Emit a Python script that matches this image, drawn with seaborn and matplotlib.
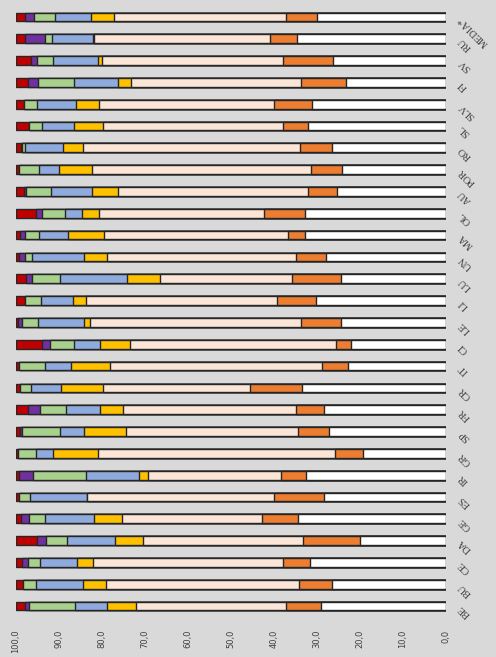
import pandas as pd
import numpy as np
import seaborn as sns
import matplotlib.pyplot as plt

# categories, top to bottom
paesi = ['MEDIA*', 'RU', 'SV', 'FI', 'SLV', 'SL', 'RO', 'POR', 'AU', 'OL', 'MA', 'UN',
         'LU', 'LI', 'LE', 'CI', 'IT', 'CR', 'FR', 'SP', 'GR', 'IR', 'ES', 'GE',
         'DA', 'CE', 'BU', 'BE']

# segments, from the 100 end (left) to the 0 end (right)
rosso = [2.1, 2.2, 3.4, 2.8, 1.9, 3.1, 1.2, 0.8, 1.8, 4.6, 1.0, 0.7,
         2.3, 2.2, 0.5, 6.1, 0.8, 1.0, 2.9, 1.0, 0.5, 0.6, 0.7, 1.1,
         4.8, 1.4, 1.7, 2.2]
viola = [2.2, 4.6, 1.5, 2.3, 0.0, 0.0, 0.3, 0.0, 0.5, 1.5, 1.2, 1.5,
         1.5, 0.0, 0.8, 1.8, 0.0, 0.0, 2.6, 0.5, 0.0, 3.3, 0.0, 1.9,
         2.1, 1.3, 0.0, 0.9]
verde = [4.7, 1.5, 3.6, 8.4, 3.0, 2.9, 0.5, 4.5, 5.8, 5.3, 3.2, 1.6,
         6.5, 3.5, 3.9, 5.6, 5.9, 2.4, 6.2, 8.8, 4.1, 12.3, 2.6, 3.8,
         5.0, 2.9, 2.9, 10.6]
blu = [8.5, 9.5, 10.5, 10.3, 9.1, 7.6, 8.9, 4.8, 9.5, 3.9, 6.7, 12.1,
       15.5, 7.5, 10.7, 6.1, 6.1, 7.0, 7.8, 5.5, 4.0, 12.4, 13.1, 11.3,
       11.2, 8.7, 11.0, 7.5]
giallo = [5.3, 0.4, 1.1, 2.9, 5.3, 6.6, 4.6, 7.6, 6.1, 4.0, 8.4, 5.3,
          7.7, 3.0, 1.2, 7.0, 9.1, 9.8, 5.4, 9.7, 10.4, 2.2, 0.2, 6.6,
          6.4, 3.5, 5.4, 6.6]
pesca = [40.0, 40.9, 42.0, 39.6, 40.8, 41.9, 50.6, 50.9, 44.2, 38.3, 42.8, 43.8,
         30.8, 44.5, 49.1, 47.9, 49.3, 34.2, 40.3, 40.1, 55.2, 30.8, 43.5, 32.6,
         37.3, 44.2, 44.8, 35.0]
arancio = [7.3, 6.2, 11.7, 10.5, 8.8, 5.8, 7.4, 7.3, 6.7, 9.5, 3.9, 7.0,
           11.2, 9.1, 9.4, 3.3, 5.9, 12.1, 6.4, 7.2, 6.4, 5.9, 11.5, 8.2,
           13.2, 6.4, 7.6, 8.1]
bianco = [29.9, 34.7, 26.2, 23.2, 31.1, 32.1, 26.5, 24.1, 25.4, 32.9, 32.8, 28.0,
          24.5, 30.2, 24.4, 22.2, 22.9, 33.5, 28.4, 27.2, 19.4, 32.5, 28.4, 34.5,
          20.0, 31.6, 26.6, 29.1]

df = pd.DataFrame({'paese': paesi, 'rosso': rosso, 'viola': viola, 'verde': verde,
                   'blu': blu, 'giallo': giallo, 'pesca': pesca,
                   'arancio': arancio, 'bianco': bianco})

serie = ['bianco', 'arancio', 'pesca', 'giallo', 'blu', 'verde', 'viola', 'rosso']
colori = {'bianco': '#FFFFFF', 'arancio': '#ED7D31', 'pesca': '#FBE5D6',
          'giallo': '#FFC000', 'blu': '#8FAADC', 'verde': '#A9D18E',
          'viola': '#7030A0', 'rosso': '#C00000'}

sns.set_theme(style='white')
plt.rcParams['font.family'] = ['DejaVu Sans']

fig = plt.figure(figsize=(4.96, 6.57), dpi=100, facecolor='#D9D9D9')
ax = fig.add_axes([16 / 496, 40 / 657, 430 / 496, 611 / 657])
ax.set_facecolor('#D9D9D9')

# stacked bars: draw cumulative totals, biggest first
cum = df[serie].cumsum(axis=1)
for s in serie[::-1]:
    sns.barplot(x=cum[s], y=df['paese'], orient='h', color=colori[s],
                width=0.4, edgecolor='#262626', linewidth=1.0,
                errorbar=None, saturation=1, ax=ax)

ax.set_xlim(100, 0)
ax.set_ylim(len(paesi) - 0.5, -0.5)
ticks = np.arange(0, 101, 10)
ax.set_xticks(ticks)
ax.set_xticklabels([f'{t:.1f}'.replace('.', ',') for t in ticks], rotation=90,
                   fontsize=6, color='#404040')
ax.set_xlabel('')
ax.set_ylabel('')
for sp in ax.spines.values():
    sp.set_visible(False)

ax.yaxis.set_ticks_position('right')
ax.tick_params(axis='y', length=0, pad=10)
ax.tick_params(axis='x', length=0, pad=9)
for lab in ax.get_yticklabels():
    lab.set_rotation(135)
    lab.set_ha('right')
    lab.set_va('center')
    lab.set_rotation_mode('anchor')
    lab.set_fontfamily('Liberation Serif')
    lab.set_fontsize(7.5)
    lab.set_color('#404040')

fig.savefig('out.png', dpi=100, facecolor=fig.get_facecolor())
